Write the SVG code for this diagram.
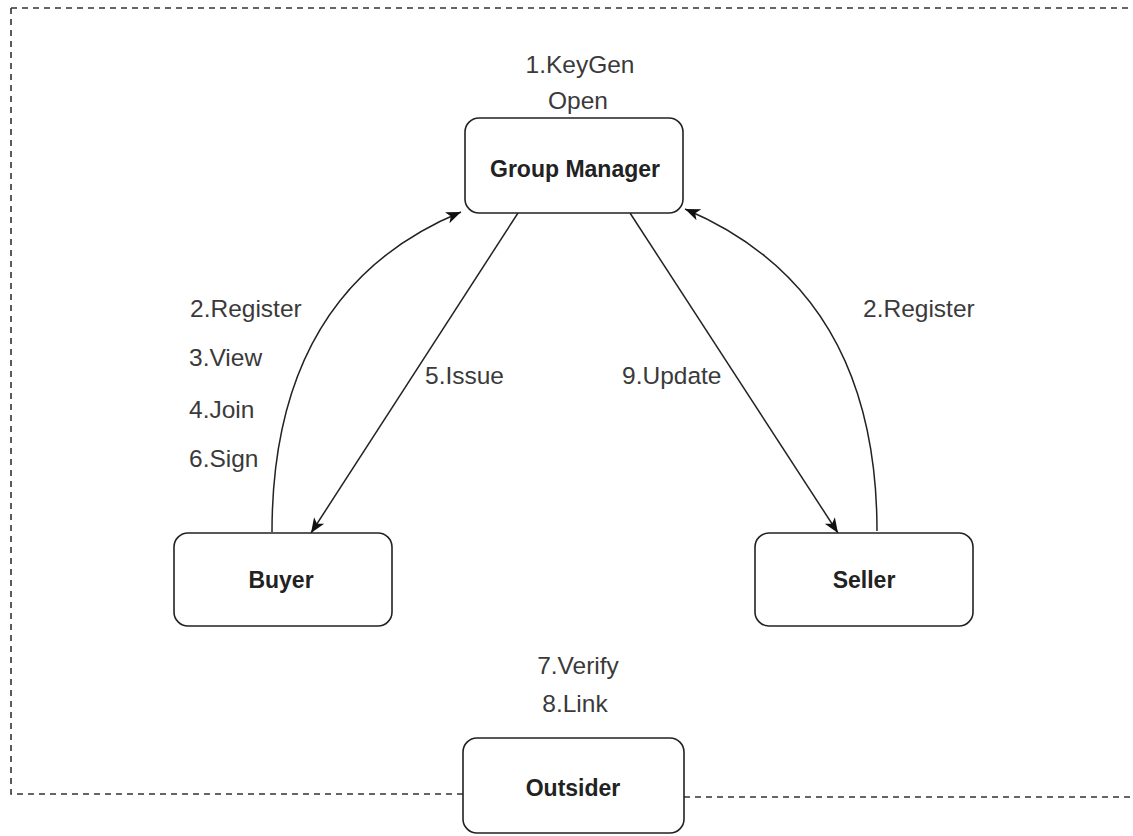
<svg xmlns="http://www.w3.org/2000/svg" width="1133" height="836" viewBox="0 0 1133 836">
<defs>
<style>
.box{fill:#fff;stroke:#222;stroke-width:1.6}
.name{font-family:"Liberation Sans",Arial,sans-serif;font-size:23px;font-weight:bold;fill:#222;text-anchor:middle}
.lbl{font-family:"Liberation Sans",Arial,sans-serif;font-size:24.5px;fill:#3a3a3a}
.mid{text-anchor:middle}
.edge{fill:none;stroke:#222;stroke-width:1.5}
.border{fill:none;stroke:#333;stroke-width:1.6;stroke-dasharray:6 5}
</style>
<marker id="arr" markerUnits="userSpaceOnUse" markerWidth="18" markerHeight="14" refX="15" refY="7" orient="auto">
<path d="M0,1 L15,7 L0,13 L4,7 Z" fill="#111"/>
</marker>
</defs>
<rect width="1133" height="836" fill="#fff"/>
<g id="border">
<path class="border" d="M11,8 L1133,8 M11,8 L11,794 L463,794 M684,797 L1133,797"/>
</g>
<g id="connectors">
<path class="edge" d="M272,532 Q272,290 461,212" marker-end="url(#arr)"/>
<path class="edge" d="M518,213 L311,533" marker-end="url(#arr)"/>
<path class="edge" d="M630,213 L838,533" marker-end="url(#arr)"/>
<path class="edge" d="M877,531 Q877,290 685,209" marker-end="url(#arr)"/>
</g>
<g id="group-manager">
<rect class="box" x="465" y="118" width="218" height="95" rx="14"/>
<text class="name" x="575" y="177">Group Manager</text>
</g>
<g id="buyer">
<rect class="box" x="174" y="533" width="218" height="93" rx="14"/>
<text class="name" x="281" y="588">Buyer</text>
</g>
<g id="seller">
<rect class="box" x="755" y="533" width="218" height="93" rx="14"/>
<text class="name" x="864" y="588">Seller</text>
</g>
<g id="outsider">
<rect class="box" x="463" y="738" width="221" height="95" rx="14"/>
<text class="name" x="573" y="796">Outsider</text>
</g>
<g id="labels">
<text class="lbl mid" x="580" y="73">1.KeyGen</text>
<text class="lbl mid" x="578" y="109">Open</text>
<text class="lbl" x="190" y="317">2.Register</text>
<text class="lbl" x="189" y="366">3.View</text>
<text class="lbl" x="189" y="418">4.Join</text>
<text class="lbl" x="189" y="467">6.Sign</text>
<text class="lbl" x="425" y="384">5.Issue</text>
<text class="lbl" x="622" y="384">9.Update</text>
<text class="lbl" x="863" y="317">2.Register</text>
<text class="lbl mid" x="578" y="674">7.Verify</text>
<text class="lbl mid" x="575" y="712">8.Link</text>
</g>
</svg>
